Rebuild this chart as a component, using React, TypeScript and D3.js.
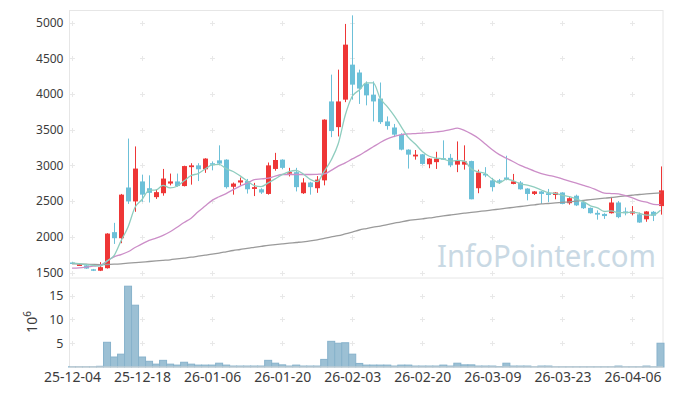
import React, { useEffect, useRef } from 'react';
import * as d3 from 'd3';

// trading days, 25-12-04 .. 26-04-10
const dates = [
  '25-12-04','25-12-05','25-12-08','25-12-09','25-12-10','25-12-11','25-12-12','25-12-15','25-12-16','25-12-17',
  '25-12-18','25-12-19','25-12-22','25-12-23','25-12-24','25-12-26','25-12-29','25-12-30','26-01-02','26-01-05',
  '26-01-06','26-01-07','26-01-08','26-01-09','26-01-12','26-01-13','26-01-14','26-01-15','26-01-16','26-01-19',
  '26-01-20','26-01-21','26-01-22','26-01-23','26-01-26','26-01-27','26-01-28','26-01-29','26-01-30','26-02-02',
  '26-02-03','26-02-04','26-02-05','26-02-06','26-02-09','26-02-10','26-02-11','26-02-12','26-02-13','26-02-19',
  '26-02-20','26-02-23','26-02-24','26-02-25','26-02-26','26-02-27','26-03-03','26-03-04','26-03-05','26-03-06',
  '26-03-09','26-03-10','26-03-11','26-03-12','26-03-13','26-03-16','26-03-17','26-03-18','26-03-19','26-03-20',
  '26-03-23','26-03-24','26-03-25','26-03-26','26-03-27','26-03-30','26-03-31','26-04-01','26-04-02','26-04-03',
  '26-04-06','26-04-07','26-04-08','26-04-09','26-04-10'
];

const opens = [
  1640,1605,1600,1545,1525,1560,2065,1980,2690,2495,
  2775,2680,2555,2610,2745,2775,2710,2975,3000,2945,
  3030,3070,3080,2700,2760,2780,2670,2665,2600,2950,
  3080,2890,2905,2610,2760,2680,2790,3895,3535,3920,
  4410,4300,4145,3990,3935,3615,3530,3430,3220,3125,
  3155,3015,3045,3100,3105,3010,3010,3060,2680,2880,
  2790,2790,2830,2740,2760,2675,2600,2635,2610,2585,
  2620,2470,2575,2485,2405,2335,2320,2330,2480,2355,
  2325,2315,2245,2350,2430
];
const highs = [
  1650,1625,1605,1550,1645,2050,2195,2600,3375,3265,
  2870,2860,2665,2950,2885,2885,2995,3030,3030,3100,
  3055,3280,3085,2760,2830,2810,2755,2680,3040,3175,
  3085,2965,2965,2820,2770,2850,3645,4270,4340,4980,
  5100,4340,4175,4175,4160,3685,3580,3450,3225,3215,
  3160,3100,3190,3350,3160,3335,3280,3065,2940,2975,
  2825,2810,3135,2880,2780,2680,2640,2640,2670,2625,
  2625,2555,2590,2500,2410,2370,2330,2545,2500,2410,
  2430,2340,2360,2360,2985
];
const lows = [
  1620,1600,1550,1520,1520,1555,1900,1910,2460,2350,
  2490,2480,2530,2575,2720,2700,2705,2730,2780,2895,
  2930,3000,2675,2590,2715,2605,2570,2600,2590,2925,
  2945,2845,2635,2600,2590,2615,2720,3395,3405,3885,
  3920,3860,3840,3615,3580,3500,3395,3210,2955,3080,
  3010,2960,2950,3080,2975,2905,2940,2525,2610,2835,
  2635,2740,2790,2735,2660,2510,2585,2460,2485,2525,
  2455,2450,2430,2390,2325,2240,2250,2325,2260,2300,
  2300,2195,2210,2220,2310
];
const closes = [
  1630,1612,1555,1525,1575,2045,1980,2590,2495,2955,
  2590,2615,2625,2815,2775,2710,2990,3000,2945,3095,
  3010,3025,2695,2745,2790,2665,2695,2620,3000,3075,
  2965,2905,2695,2760,2695,2800,3640,3480,3895,4690,
  4130,4075,3980,3895,3605,3550,3430,3220,3150,3150,
  3020,3095,3095,3085,3000,3070,3055,2525,2900,2870,
  2695,2775,2800,2775,2665,2600,2635,2600,2585,2620,
  2460,2540,2440,2400,2330,2310,2290,2480,2275,2330,
  2355,2200,2355,2295,2650
];

// volume, x 10^6
const volumes = [
  0.05,0.05,0.05,0.05,0.15,5.2,2.1,2.7,17.0,13.0,
  2.1,1.2,0.6,1.4,0.6,0.4,1.0,0.6,0.4,0.4,
  0.4,0.8,0.4,0.2,0.2,0.2,0.2,0.2,1.4,0.8,
  0.45,0.2,0.4,0.2,0.2,0.2,1.6,5.4,5.0,5.1,
  2.7,0.75,0.4,0.4,0.4,0.4,0.2,0.4,0.4,0.2,
  0.2,0.2,0.2,0.4,0.2,0.8,0.45,0.45,0.2,0.2,
  0.2,0.1,0.8,0.2,0.2,0.2,0.05,0.2,0.2,0.05,
  0.05,0.05,0.05,0.05,0.05,0.05,0.05,0.05,0.2,0.05,
  0.05,0.05,0.2,0.05,5.0
];

// moving averages
const ma5 = [
  1635,1625,1612,1600,1592,1662,1736,1943,2137,2413,
  2522,2649,2656,2720,2684,2708,2783,2858,2884,2948,
  3008,3015,2954,2914,2853,2784,2718,2703,2754,2811,
  2871,2913,2928,2880,2804,2771,2918,3075,3302,3701,
  3967,4054,4154,4154,3937,3821,3692,3540,3391,3300,
  3194,3127,3102,3089,3059,3069,3061,2947,2910,2884,
  2809,2753,2808,2783,2742,2723,2695,2655,2617,2608,
  2580,2561,2529,2492,2434,2404,2354,2362,2337,2337,
  2346,2328,2303,2307,2371
];
const ma20 = [
  1560,1565,1575,1588,1600,1660,1720,1750,1790,1850,
  1900,1950,1980,2020,2070,2134,2200,2260,2350,2430,
  2510,2560,2605,2660,2710,2750,2800,2810,2820,2850,
  2872,2872,2872,2872,2872,2875,2880,2930,2990,3035,
  3090,3140,3200,3260,3320,3370,3405,3430,3440,3445,
  3450,3458,3468,3480,3500,3520,3490,3440,3380,3300,
  3220,3150,3100,3050,3000,2960,2920,2885,2860,2840,
  2810,2780,2750,2720,2690,2650,2612,2605,2600,2575,
  2545,2505,2484,2455,2450
];
const ma60 = [
  1622,1619,1616,1613,1611,1612,1616,1622,1630,1638,
  1646,1654,1662,1670,1678,1690,1702,1714,1728,1742,
  1756,1772,1790,1808,1822,1838,1852,1866,1880,1890,
  1900,1910,1920,1930,1942,1958,1978,1998,2015,2040,
  2065,2095,2115,2134,2150,2170,2190,2210,2228,2240,
  2252,2264,2278,2292,2305,2318,2330,2342,2353,2364,
  2376,2388,2400,2412,2424,2436,2448,2460,2466,2474,
  2482,2490,2500,2510,2520,2530,2540,2550,2562,2572,
  2582,2592,2600,2608,2616
];

const priceTicks = [1500, 2000, 2500, 3000, 3500, 4000, 4500, 5000];
const volumeTicks = [5, 10, 15];
const dateTickIdx = [0, 10, 20, 30, 40, 50, 60, 70, 80];

const UP = '#ee3636';
const DOWN = '#6cc0d8';

export default function App() {
  const ref = useRef<SVGSVGElement | null>(null);

  useEffect(() => {
    const width = 673;
    const height = 396;
    const left = 69.5;
    const right = 663;
    const mainTop = 10.5;
    const mainBottom = 278;
    const volBottom = 367;

    const svg = d3.select(ref.current);
    svg.selectAll('*').remove();
    svg.attr('width', width).attr('height', height);

    const x = d3.scaleLinear().domain([0, 84]).range([72, 660.5]);
    const y = d3.scaleLinear().domain([1500, 5000]).range([272.5, 22.5]);
    const yv = d3.scaleLinear().domain([0, 15]).range([volBottom, 295.7]);

    // frames
    svg.append('rect')
      .attr('x', left).attr('y', mainTop)
      .attr('width', right - left).attr('height', mainBottom - mainTop)
      .attr('fill', 'none').attr('stroke', '#e6e6e6');
    svg.append('line')
      .attr('x1', left).attr('x2', left).attr('y1', mainBottom).attr('y2', volBottom)
      .attr('stroke', '#e6e6e6');
    svg.append('line')
      .attr('x1', right).attr('x2', right).attr('y1', mainBottom).attr('y2', volBottom)
      .attr('stroke', '#e6e6e6');

    // grid crosses
    const crosses = svg.append('g').attr('stroke', '#e8e8e8').attr('stroke-width', 1);
    const rowsY = priceTicks.map(v => y(v)).concat(volumeTicks.map(v => yv(v)));
    dateTickIdx.forEach(i => {
      rowsY.forEach(ry => {
        const cx = Math.round(x(i)) + 0.5;
        const cy = Math.round(ry) + 0.5;
        crosses.append('line').attr('x1', cx - 2.5).attr('x2', cx + 2.5).attr('y1', cy).attr('y2', cy);
        crosses.append('line').attr('x1', cx).attr('x2', cx).attr('y1', cy - 2.5).attr('y2', cy + 2.5);
      });
    });

    // watermark
    svg.append('text')
      .attr('x', 437).attr('y', 267)
      .attr('textLength', 219).attr('lengthAdjust', 'spacingAndGlyphs')
      .style('font-family', '"Noto Sans", sans-serif')
      .style('font-size', '31px')
      .attr('fill', '#c9d9e4')
      .text('InfoPointer.com');

    // volume bars
    const bw = 7;
    svg.append('g')
      .selectAll('rect')
      .data(volumes)
      .enter()
      .append('rect')
      .attr('x', (d, i) => x(i) - bw / 2)
      .attr('y', d => yv(d))
      .attr('width', bw)
      .attr('height', d => volBottom - yv(d))
      .attr('fill', '#9cc0d4')
      .attr('stroke', '#87b2cb')
      .attr('stroke-width', 1);

    svg.append('line')
      .attr('x1', left).attr('x2', right).attr('y1', volBottom).attr('y2', volBottom)
      .attr('stroke', '#d6d6d6');

    // candles
    const candles = svg.append('g');
    const cw = 5;
    opens.forEach((o, i) => {
      const c = closes[i];
      const col = c >= o ? UP : DOWN;
      const cx = Math.round(x(i));
      candles.append('line')
        .attr('x1', cx + 0.5).attr('x2', cx + 0.5)
        .attr('y1', y(highs[i])).attr('y2', y(lows[i]))
        .attr('stroke', col).attr('stroke-width', 1);
      const top = y(Math.max(o, c));
      const h = Math.max(1.5, Math.abs(y(o) - y(c)));
      candles.append('rect')
        .attr('x', cx + 0.5 - cw / 2).attr('y', top)
        .attr('width', cw).attr('height', h)
        .attr('fill', col);
    });

    // moving averages
    const line = d3.line<number>()
      .x((d, i) => x(i))
      .y(d => y(d))
      .curve(d3.curveMonotoneX);
    const mas: [number[], string][] = [
      [ma60, '#9a9a9a'],
      [ma20, '#cc8ec8'],
      [ma5, '#8fcdbf'],
    ];
    mas.forEach(([data, col]) => {
      svg.append('path')
        .datum(data)
        .attr('d', line)
        .attr('fill', 'none')
        .attr('stroke', col)
        .attr('stroke-width', 1.3);
    });

    // axes
    const yAxis = d3.axisLeft(y).tickValues(priceTicks).tickSize(0).tickPadding(6).tickFormat(d => String(d));
    const ga = svg.append('g').attr('transform', `translate(${left},0)`).call(yAxis);
    const yvAxis = d3.axisLeft(yv).tickValues(volumeTicks).tickSize(0).tickPadding(6).tickFormat(d => String(d));
    const gv = svg.append('g').attr('transform', `translate(${left},0)`).call(yvAxis);
    const xAxis = d3.axisBottom(x).tickValues(dateTickIdx).tickSize(0).tickPadding(5).tickFormat(i => dates[+i]);
    const gx = svg.append('g').attr('transform', `translate(0,${volBottom})`).call(xAxis);

    [ga, gv, gx].forEach(g => {
      g.select('.domain').remove();
      g.selectAll('text')
        .attr('fill', '#3c3c3c')
        .style('font-family', '"Noto Sans", sans-serif');
    });
    ga.selectAll('text').style('font-size', '12px');
    gv.selectAll('text').style('font-size', '12.5px');
    gx.selectAll('text').style('font-size', '14px');

    // volume unit label
    const unit = svg.append('text')
      .attr('transform', 'translate(37,322) rotate(-90)')
      .attr('text-anchor', 'middle')
      .attr('fill', '#3c3c3c')
      .style('font-family', '"Noto Sans", sans-serif')
      .style('font-size', '14px');
    unit.append('tspan').text('10');
    unit.append('tspan').attr('dy', -6).style('font-size', '10px').text('6');
  }, []);

  return (
    <div style={{ position: 'fixed', left: 0, top: 0, background: '#fff' }}>
      <svg ref={ref} style={{ display: 'block' }} />
    </div>
  );
}
